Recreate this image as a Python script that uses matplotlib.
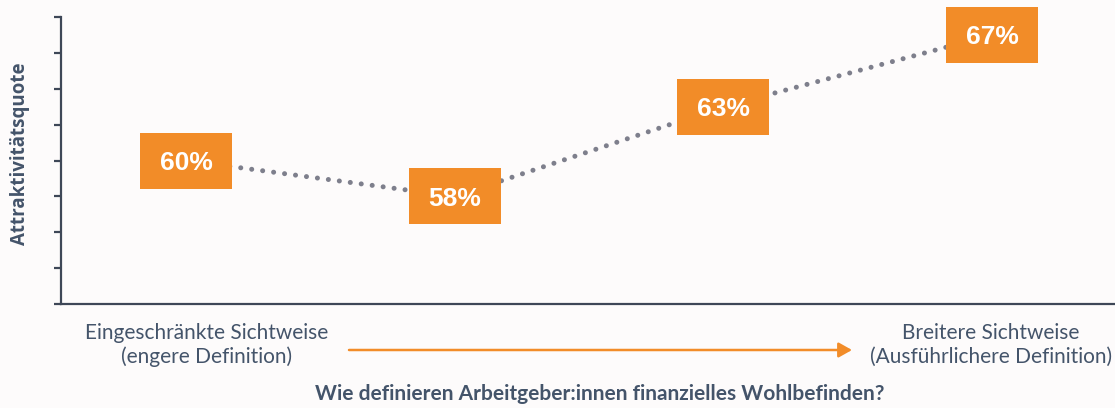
import matplotlib
matplotlib.use("Agg")
import matplotlib.pyplot as plt
from matplotlib.path import Path

labels = ["60%", "58%", "63%", "67%"]
values = [60, 58, 63, 67]
positions = [0, 1, 2, 3]
yticks = [52, 54, 56, 58, 60, 62, 64, 66, 68]
left_label = "Eingeschränkte Sichtweise\n(engere Definition)"
right_label = "Breitere Sichtweise\n(Ausführlichere Definition)"
ylabel = "Attraktivitätsquote"
xlabel = "Wie definieren Arbeitgeber:innen finanzielles Wohlbefinden?"

ORANGE = "#f28c28"
TEXT = "#44546a"
AXIS = "#3e4757"
BG = "#fdfbfb"

fig = plt.figure(figsize=(11.15, 4.08), dpi=100, facecolor=BG)
ax = fig.add_axes([61/1115, 1-304/408, 1-61/1115, 287/408])
ax.set_facecolor(BG)

ax.plot(positions, values, color="#7e7f8c", lw=3.6, linestyle=(0, (0.01, 2.2)),
        dash_capstyle="round", zorder=1, clip_on=False)

# rectangular box marker, 93x57 px
w, h = 1.0, 57/93
box = Path([(-w/2, -h/2), (w/2, -h/2), (w/2, h/2), (-w/2, h/2), (-w/2, -h/2)],
           [Path.MOVETO, Path.LINETO, Path.LINETO, Path.LINETO, Path.CLOSEPOLY])
ax.plot(positions, values, linestyle="none", marker=box, markersize=93*0.72,
        markerfacecolor=ORANGE, markeredgewidth=0, zorder=2, clip_on=False)
for x, v, t in zip(positions, values, labels):
    ax.text(x, v, t, ha="center", va="center_baseline", color="white", fontsize=19,
            fontweight="bold", family="Liberation Sans", zorder=3)

ax.set_xlim(-0.465, 3.457)
ax.set_ylim(52, 68)
ax.set_yticks(yticks)
ax.set_yticklabels([])
ax.set_xticks([])
for s in ["top", "right"]:
    ax.spines[s].set_visible(False)
for s in ["left", "bottom"]:
    ax.spines[s].set_color(AXIS)
    ax.spines[s].set_linewidth(1.6)
ax.tick_params(axis="y", length=5, width=1.6, color=AXIS)

fig.text(20/1115, 1-154/408, ylabel, rotation=90, ha="center", va="center",
         fontsize=13.5, fontweight="bold", color=TEXT, family="Open Sans")
fig.text(207/1115, 1-345/408, left_label, ha="center", va="center", color=TEXT,
         fontsize=15, family="Lato", linespacing=1.2)
fig.text(991/1115, 1-345/408, right_label, ha="center", va="center", color=TEXT,
         fontsize=15, family="Lato", linespacing=1.2)
fig.text(600/1115, 1-394/408, xlabel, ha="center", va="center", color=TEXT,
         fontsize=15, fontweight="bold", family="Lato")
fig.patches.append(matplotlib.patches.FancyArrowPatch(
    (349/1115, 1-350/408), (852/1115, 1-350/408), transform=fig.transFigure,
    arrowstyle="-|>,head_length=8,head_width=4.5", color=ORANGE, lw=1.8,
    mutation_scale=1, shrinkA=0, shrinkB=0))

fig.savefig("out.png", dpi=100, facecolor=BG)
